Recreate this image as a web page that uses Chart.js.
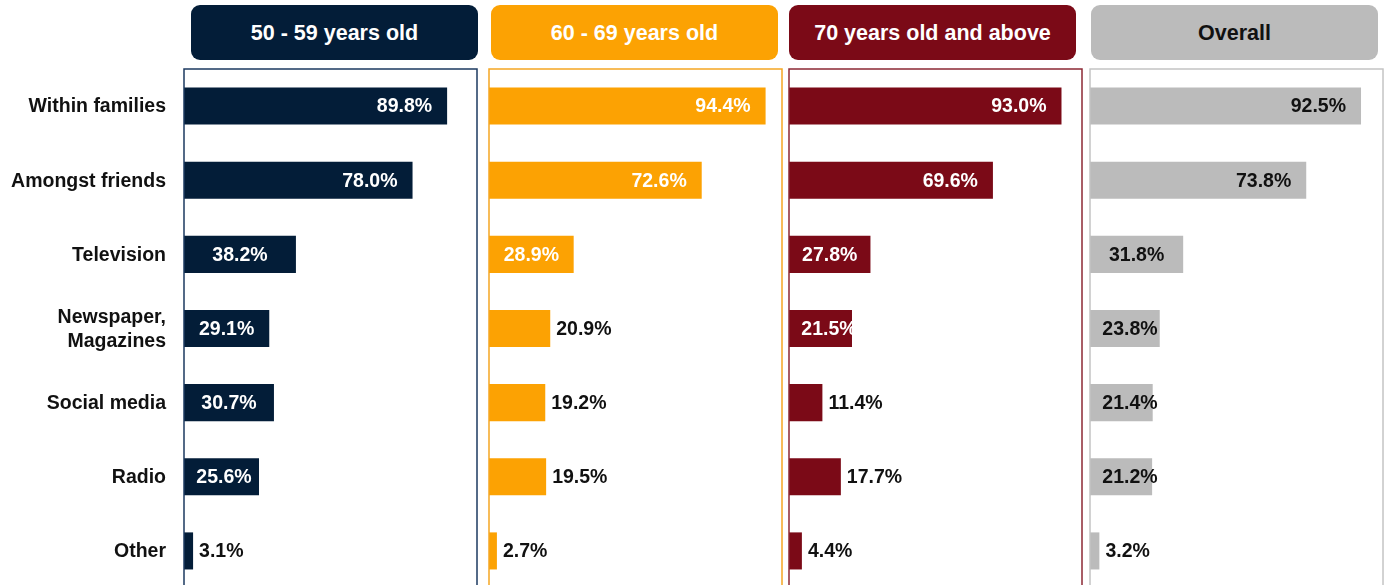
<!DOCTYPE html>
<html lang="en">
  <head>
    <meta charset="UTF-8" />
    <title>Sources of information by age group</title>
    <script src="https://cdn.jsdelivr.net/npm/chart.js"></script>
    <style>
      body {
        margin: 0;
        width: 1387px;
        height: 585px;
        overflow: hidden;
        background: #fff;
        font-family: "Liberation Sans", Arial, sans-serif;
      }
      .header {
        position: absolute;
        top: 5px;
        width: 287px;
        height: 55px;
        border-radius: 9px;
        color: #fff;
        font-weight: bold;
        font-size: 21.5px;
        line-height: 56px;
        text-align: center;
      }
      .panel {
        position: absolute;
        top: 0;
        height: 600px;
      }
    </style>
  </head>
  <body>
    <div class="header" style="left: 191px; background: #031d38">50 - 59 years old</div>
    <div class="header" style="left: 491px; background: #fca203">60 - 69 years old</div>
    <div class="header" style="left: 789px; background: #7b0a17">70 years old and above</div>
    <div class="header" style="left: 1091px; background: #bbbbbb; color: #111">Overall</div>

    <div class="panel" style="left: 0; width: 478px"><canvas id="chart50"></canvas></div>
    <div class="panel" style="left: 488px; width: 295px"><canvas id="chart60"></canvas></div>
    <div class="panel" style="left: 788px; width: 295px"><canvas id="chart70"></canvas></div>
    <div class="panel" style="left: 1089px; width: 295px"><canvas id="chartAll"></canvas></div>

    <script>
      const categories = [
        "Within families",
        "Amongst friends",
        "Television",
        ["Newspaper,", "Magazines"],
        "Social media",
        "Radio",
        "Other"
      ];
      const age50to59 = [89.8, 78.0, 38.2, 29.1, 30.7, 25.6, 3.1];
      const age60to69 = [94.4, 72.6, 28.9, 20.9, 19.2, 19.5, 2.7];
      const age70plus = [93.0, 69.6, 27.8, 21.5, 11.4, 17.7, 4.4];
      const overall = [92.5, 73.8, 31.8, 23.8, 21.4, 21.2, 3.2];

      const FONT = "'Liberation Sans', Arial, sans-serif";

      // frame around the plot area, value labels, and (first panel) category names
      const panelPlugin = {
        id: "panelPlugin",
        afterDatasetsDraw(chart, args, opts) {
          const ctx = chart.ctx;
          const a = chart.chartArea;
          ctx.save();
          ctx.strokeStyle = opts.frame;
          ctx.lineWidth = 1.5;
          ctx.strokeRect(a.left, a.top, a.right - a.left, a.bottom - a.top);

          ctx.font = "bold 19.5px " + FONT;
          ctx.textBaseline = "middle";

          if (opts.categories) {
            const yScale = chart.scales.y;
            ctx.fillStyle = "#111";
            ctx.textAlign = "right";
            chart.data.labels.forEach((lab, i) => {
              const y = yScale.getPixelForValue(i);
              const lines = Array.isArray(lab) ? lab : [lab];
              const lh = 24;
              lines.forEach((line, j) => {
                ctx.fillText(line, a.left - 18, y + 1 + (j - (lines.length - 1) / 2) * lh);
              });
            });
          }

          const values = chart.data.datasets[0].data;
          chart.getDatasetMeta(0).data.forEach((bar, i) => {
            const v = values[i];
            const txt = v.toFixed(1) + "%";
            if (v >= 60) {
              ctx.fillStyle = opts.inside;
              ctx.textAlign = "right";
              ctx.fillText(txt, bar.x - 15, bar.y + 1);
            } else if (v >= 21) {
              ctx.fillStyle = opts.inside;
              ctx.textAlign = "center";
              ctx.fillText(txt, Math.max((bar.x + bar.base) / 2, bar.base + 40), bar.y + 1);
            } else {
              ctx.fillStyle = "#111";
              ctx.textAlign = "left";
              ctx.fillText(txt, bar.x + 6, bar.y + 1);
            }
          });
          ctx.restore();
        }
      };

      function makeChart(id, data, color, frame, inside, showLabels) {
        return new Chart(document.getElementById(id), {
          type: "bar",
          data: {
            labels: categories,
            datasets: [{ data, backgroundColor: color, categoryPercentage: 1, barPercentage: 0.5 }]
          },
          options: {
            indexAxis: "y",
            responsive: true,
            maintainAspectRatio: false,
            animation: false,
            layout: { padding: { top: 69, bottom: 12, left: showLabels ? 184 : 1, right: 1 } },
            plugins: {
              legend: { display: false },
              tooltip: { enabled: false },
              panelPlugin: { frame, inside, categories: showLabels }
            },
            scales: {
              x: { min: 0, max: 100, display: false },
              y: { display: false }
            }
          },
          plugins: [panelPlugin]
        });
      }

      makeChart("chart50", age50to59, "#031d38", "#1c3a60", "#fff", true);
      makeChart("chart60", age60to69, "#fca203", "#f5a623", "#fff", false);
      makeChart("chart70", age70plus, "#7b0a17", "#8c2834", "#fff", false);
      makeChart("chartAll", overall, "#bbbbbb", "#c4c4c4", "#111", false);
    </script>
  </body>
</html>
